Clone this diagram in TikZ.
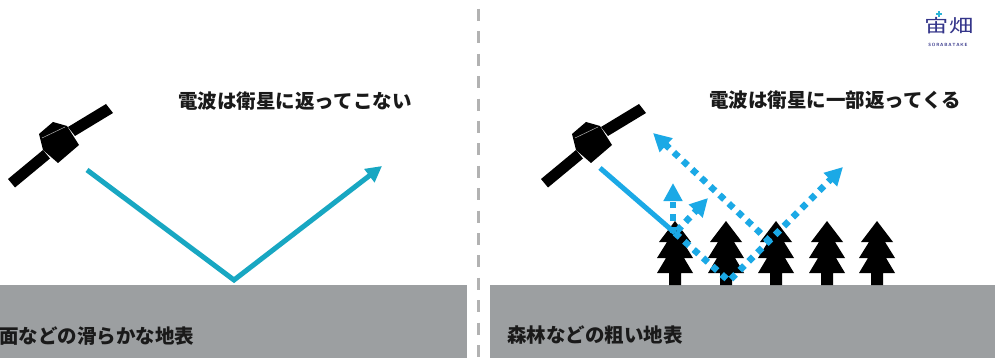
\documentclass[tikz,border=0pt]{standalone}
\usepackage{fontspec}
\newfontfamily\jp{Noto Sans CJK JP}
\usetikzlibrary{arrows.meta}

\definecolor{groundgray}{HTML}{9C9FA1}
\definecolor{dividergray}{HTML}{B2B2B2}
\definecolor{tealbeam}{HTML}{18A7C2}
\definecolor{skybeam}{HTML}{1BA9E6}
\definecolor{inkdark}{HTML}{1A1A1A}
\definecolor{logonavy}{HTML}{34358A}
\definecolor{logocyan}{HTML}{2BB3D6}

\tikzset{
  headline/.style={font=\jp\bfseries\fontsize{19.5}{22}\selectfont, text=inkdark, inner sep=0pt},
  groundlabel/.style={font=\jp\bfseries\fontsize{19.5}{22}\selectfont, text=inkdark, inner sep=0pt, anchor=west},
  divider/.style={draw=dividergray, line width=3pt, dash pattern=on 12pt off 10.4pt, dash phase=13.4pt},
  smoothbeam/.style={draw=tealbeam, line width=5pt, line join=miter,
    -{Triangle[length=16pt,width=16pt]}},
  solidbeam/.style={draw=skybeam, line width=5pt},
  scatterbeam/.style={draw=skybeam, line width=6.5pt, dash pattern=on 6.5pt off 6pt,
    line join=miter, -{Triangle[length=18pt,width=18pt]}},
  pine/.pic={
    \fill[black] (0,0) -- (16,-21) -- (8,-21) -- (18,-37) -- (9,-37) -- (18,-52)
      -- (6,-52) -- (6,-64) -- (-6,-64) -- (-6,-52) -- (-18,-52) -- (-9,-37)
      -- (-18,-37) -- (-8,-21) -- (-16,-21) -- cycle;
  },
  satellite/.pic={
    % solar panels
    \fill[black] (8,16) -- (46,39) -- (53,30) -- (15,7) -- cycle;
    \fill[black] (-52,-36) -- (-17,-7) -- (-10,-15.5) -- (-45,-44.5) -- cycle;
    % body
    \fill[black] (-21,9) -- (-7,21) -- (7,17) -- (19,-2) -- (-2,-20) -- (-17,-7) -- cycle;
    \draw[gray!60, line width=0.5pt] (-18,5) -- (5,16);
  }
}

\begin{document}
\begin{tikzpicture}[x=1pt, y=1pt]
  \useasboundingbox (0,0) rectangle (995,-358);
  \fill[white] (0,0) rectangle (995,-358);

  % ground strips
  \fill[groundgray] (0,-285) rectangle (466.5,-358);
  \fill[groundgray] (489.5,-285) rectangle (995,-358);

  % panel divider
  \coordinate (divtop) at (478,0);
  \coordinate (divbot) at (478,-358);
  \draw[divider] (divtop) -- (divbot);

  % ---------- smooth surface ----------
  \pic at (60,-143) {satellite};
  \coordinate (l0) at (87,-170);
  \coordinate (l1) at (234,-280);
  \coordinate (l2) at (382,-166);
  \draw[smoothbeam] (l0) -- (l1) -- (l2);
  \node[headline] (ltitle) at (295,-101) {電波は衛星に返ってこない};
  \node[groundlabel] (lground) at (-1,-336) {面などの滑らかな地表};

  % ---------- rough surface ----------
  \pic at (593,-143) {satellite};
  \foreach \tx in {675,726,776,827,877} {
    \pic at (\tx,-221) {pine};
  }
  \coordinate (r0) at (600,-168);
  \coordinate (r1) at (675,-233);
  \coordinate (rv) at (729,-281);
  \coordinate (rout) at (843,-167);
  \coordinate (rb0) at (770,-242);
  \coordinate (rback) at (653,-133);
  \coordinate (rup0) at (673,-233);
  \coordinate (rup) at (673,-183);
  \coordinate (rdg0) at (677,-231);
  \coordinate (rdg) at (708,-198);
  \draw[solidbeam] (r0) -- (r1);
  \draw[scatterbeam] (r1) -- (rv) -- (rout);
  \draw[scatterbeam] (rb0) -- (rback);
  \draw[scatterbeam] (rup0) -- (rup);
  \draw[scatterbeam] (rdg0) -- (rdg);
  \node[headline] (rtitle) at (835,-100) {電波は衛星に一部返ってくる};
  \node[groundlabel] (rground) at (507,-335) {森林などの粗い地表};

  % ---------- logo ----------
  \node[inner sep=0pt, text=logonavy, font=\jp\fontsize{18}{20}\selectfont] (logo) at (949,-26)
    {\scalebox{1.35}[1]{宙畑}};
  \node[inner sep=0pt, text=logonavy, font=\sffamily\bfseries\fontsize{4.5}{5}\selectfont] (logosub) at (948,-45)
    {S\,O\,R\,A\,B\,A\,T\,A\,K\,E};
  \coordinate (plusc) at (939,-14);
  \draw[logocyan, line width=1.2pt] ([xshift=-3pt]plusc) -- ([xshift=3pt]plusc)
    ([yshift=-3pt]plusc) -- ([yshift=3pt]plusc);
\end{tikzpicture}
\end{document}
